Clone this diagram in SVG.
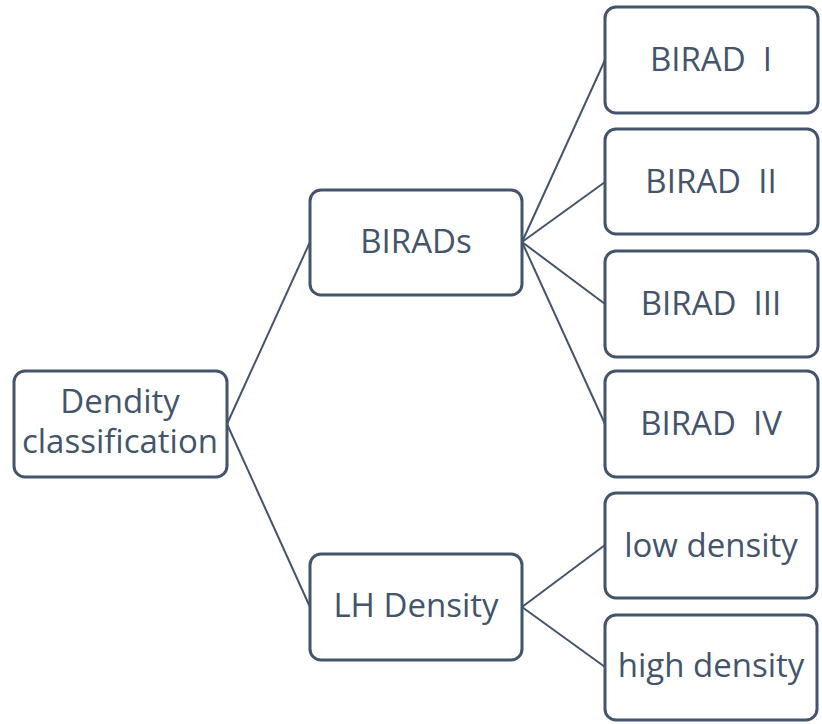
<svg xmlns="http://www.w3.org/2000/svg" width="822" height="724" viewBox="0 0 822 724">
<style>
.box{fill:#fff;stroke:#44546A;stroke-width:3}
.lbl{font-family:"Open Sans","Noto Sans",sans-serif;font-size:33px;fill:#44546A;text-anchor:middle;white-space:pre}
.con{stroke:#44546A;stroke-width:2;fill:none}
</style>
<rect width="822" height="724" fill="#fff"/>
<g id="connectors">
<line class="con" x1="227" y1="424" x2="310" y2="242"/>
<line class="con" x1="227" y1="424" x2="310" y2="607"/>
<line class="con" x1="522" y1="242" x2="605" y2="60"/>
<line class="con" x1="522" y1="242" x2="605" y2="182"/>
<line class="con" x1="522" y1="242" x2="605" y2="304"/>
<line class="con" x1="522" y1="242" x2="605" y2="424"/>
<line class="con" x1="522" y1="607" x2="605" y2="545"/>
<line class="con" x1="522" y1="607" x2="605" y2="667"/>
</g>
<g id="root">
<rect class="box" x="14" y="371" width="213" height="106" rx="11"/>
<text class="lbl" x="120" y="413">Dendity</text>
<text class="lbl" x="120" y="453">classification</text>
</g>
<g id="birads">
<rect class="box" x="310" y="190" width="212" height="105" rx="11"/>
<text class="lbl" x="416" y="253">BIRADs</text>
</g>
<g id="lh">
<rect class="box" x="310" y="554" width="212" height="106" rx="11"/>
<text class="lbl" x="416" y="617">LH Density</text>
</g>
<g id="b1">
<rect class="box" x="605" y="7" width="213" height="106" rx="11"/>
<text class="lbl" x="711" y="71">BIRAD  I</text>
</g>
<g id="b2">
<rect class="box" x="605" y="129" width="213" height="105" rx="11"/>
<text class="lbl" x="711" y="193">BIRAD  II</text>
</g>
<g id="b3">
<rect class="box" x="605" y="251" width="213" height="106" rx="11"/>
<text class="lbl" x="711" y="315">BIRAD  III</text>
</g>
<g id="b4">
<rect class="box" x="605" y="371" width="213" height="106" rx="11"/>
<text class="lbl" x="711" y="435">BIRAD  IV</text>
</g>
<g id="low">
<rect class="box" x="605" y="493" width="212" height="105" rx="11"/>
<text class="lbl" x="711" y="557">low density</text>
</g>
<g id="high">
<rect class="box" x="605" y="615" width="212" height="105" rx="11"/>
<text class="lbl" x="711" y="677">high density</text>
</g>
</svg>
